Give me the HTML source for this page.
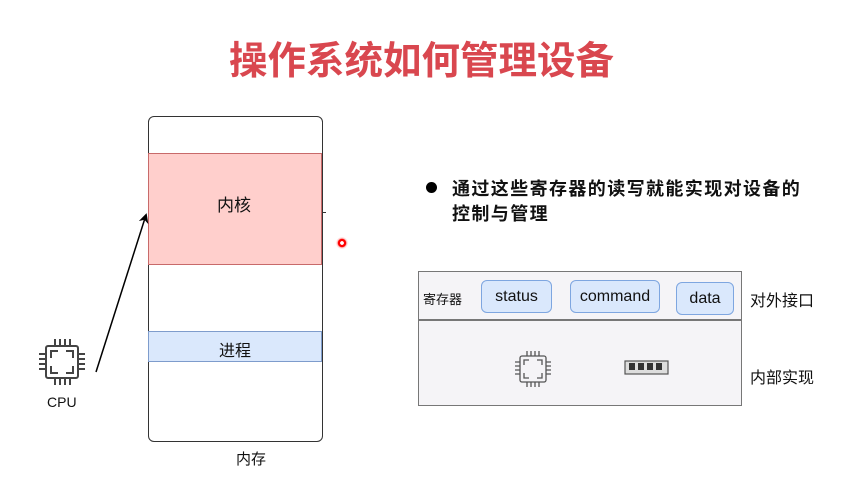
<!DOCTYPE html>
<html><head><meta charset="utf-8"><style>
body{margin:0;width:868px;height:478px;background:#fff;position:relative;overflow:hidden;font-family:"Liberation Sans","Noto Sans CJK SC",sans-serif;}
.a{position:absolute;}
.t{position:absolute;white-space:nowrap;}
.reg{position:absolute;background:#dae8fc;border:1.5px solid #7ea6e0;border-radius:6px;box-sizing:border-box;font-size:16px;color:#111;display:flex;align-items:center;justify-content:center;}
</style></head><body>
<div class="t" style="left:229px;top:30px;font-size:38.5px;font-weight:bold;color:#d9474f;">操作系统如何管理设备</div>

<div class="a" style="left:148px;top:116px;width:175px;height:326px;border:1.5px solid #333;border-radius:6px;box-sizing:border-box;"></div>
<div class="a" style="left:148px;top:153px;width:174px;height:112px;background:#ffcfcc;border:1.5px solid #c86a6a;box-sizing:border-box;"></div>
<div class="t" style="left:217px;top:191px;font-size:17px;color:#111;">内核</div>
<div class="a" style="left:148px;top:331px;width:174px;height:31px;background:#dae8fc;border:1.5px solid #7e9ccc;box-sizing:border-box;"></div>
<div class="t" style="left:219px;top:337px;font-size:16px;color:#111;">进程</div>
<div class="t" style="left:236px;top:448px;font-size:15px;color:#111;">内存</div>
<div class="a" style="left:322px;top:212px;width:4px;height:1px;background:#333;"></div>
<div class="a" style="left:336px;top:237px;width:12px;height:12px;border-radius:50%;background:radial-gradient(#fff 0 20%,#f00 25% 45%,rgba(255,120,120,.4) 55%,transparent 75%);"></div>

<div class="t" style="left:47px;top:394px;font-size:14px;color:#111;">CPU</div>

<div class="a" style="left:426px;top:182px;width:11px;height:11px;border-radius:50%;background:#000;"></div>
<div class="t" style="left:452px;top:177px;font-size:18px;font-weight:bold;color:#111;letter-spacing:1.4px;line-height:25px;">通过这些寄存器的读写就能实现对设备的<br>控制与管理</div>

<div class="a" style="left:418px;top:271px;width:324px;height:135px;background:#f5f4f7;border:1.5px solid #777;box-sizing:border-box;"></div>
<div class="a" style="left:418px;top:319px;width:324px;height:1.5px;background:#777;"></div>
<div class="t" style="left:423px;top:289px;font-size:13px;color:#111;">寄存器</div>
<div class="reg" style="left:481px;top:280px;width:71px;height:33px;">status</div>
<div class="reg" style="left:570px;top:280px;width:90px;height:33px;">command</div>
<div class="reg" style="left:676px;top:282px;width:58px;height:33px;">data</div>
<div class="t" style="left:750px;top:287px;font-size:16px;color:#111;">对外接口</div>
<div class="t" style="left:750px;top:364px;font-size:16px;color:#111;">内部实现</div>

<svg class="a" style="left:0;top:0" width="868" height="478">
<defs><marker id="ar" markerWidth="10" markerHeight="10" refX="8" refY="5" orient="auto" markerUnits="userSpaceOnUse"><path d="M0,0 L10,5 L0,10 L3,5z" fill="#000"/></marker></defs>
<line x1="96" y1="372" x2="146" y2="215" stroke="#000" stroke-width="1.5" marker-end="url(#ar)"/>
<g stroke="#444" stroke-width="2" fill="none">
<rect x="46" y="346" width="32" height="32" rx="2"/>
<path d="M51,358 v-7 h7 M66,351 h7 v7 M73,366 v7 h-7 M58,373 h-7 v-7"/>
<path d="M55,346 v-7 M60,346 v-7 M65,346 v-7 M70,346 v-7 M55,378 v7 M60,378 v7 M65,378 v7 M70,378 v7 M46,354 h-7 M46,359 h-7 M46,364 h-7 M46,369 h-7 M78,354 h7 M78,359 h7 M78,364 h7 M78,369 h7"/>
</g>
<g stroke="#555" stroke-width="1.3" fill="none">
<rect x="520" y="356" width="26" height="26" rx="2"/>
<path d="M524,365 v-5 h5 M537,360 h5 v5 M542,373 v5 h-5 M529,378 h-5 v-5"/>
<path d="M527,356 v-5 M531,356 v-5 M535,356 v-5 M539,356 v-5 M527,382 v5 M531,382 v5 M535,382 v5 M539,382 v5 M520,362 h-5 M520,366 h-5 M520,370 h-5 M520,374 h-5 M546,362 h5 M546,366 h5 M546,370 h5 M546,374 h5"/>
</g>
<rect x="625" y="361" width="43" height="13" fill="#ddd" stroke="#555" stroke-width="1.2"/>
<g fill="#333"><rect x="629" y="363" width="6" height="7"/><rect x="638" y="363" width="6" height="7"/><rect x="647" y="363" width="6" height="7"/><rect x="656" y="363" width="6" height="7"/></g>
</svg>
</body></html>
